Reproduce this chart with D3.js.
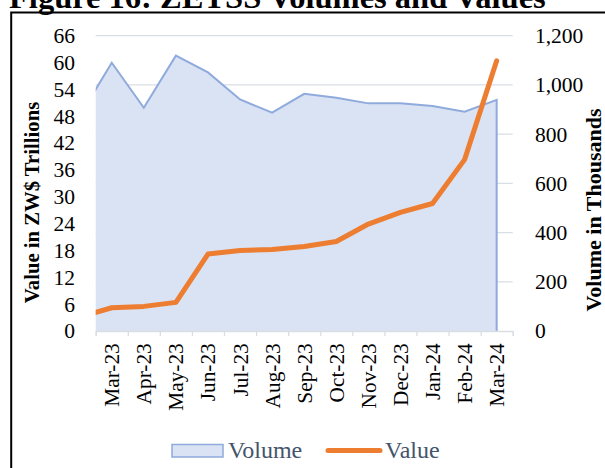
<!DOCTYPE html>
<html>
<head>
<meta charset="utf-8">
<script src="https://cdn.jsdelivr.net/npm/d3@7"></script>
<style>
  body { margin: 0; background: #fff; }
  svg { display: block; font-family: "Liberation Serif", "Times New Roman", serif; }
</style>
</head>
<body>
<script>
const width = 605;
const height = 468;

// Feb-23 sits just outside the plot, only its clipped edge shows
const months = ["Feb-23", "Mar-23", "Apr-23", "May-23", "Jun-23", "Jul-23", "Aug-23",
  "Sep-23", "Oct-23", "Nov-23", "Dec-23", "Jan-24", "Feb-24", "Mar-24"];
const volume = [874, 1090, 907, 1119, 1051, 941, 887, 964, 948, 925, 925, 914, 891, 939];
const value = [3.1, 5.2, 5.5, 6.4, 17.2, 18.0, 18.2, 18.9, 20.0, 23.9, 26.5, 28.5, 38.3, 60.4];
const valueTicks = [0, 6, 12, 18, 24, 30, 36, 42, 48, 54, 60, 66];
const volumeTicks = [0, 200, 400, 600, 800, 1000, 1200];

const plotLeft = 95.7;
const plotRight = 512.7;
const plotTop = 35.7;
const plotBottom = 331;
const areaFill = "#dae3f3";
const areaStroke = "#8faadc";
const lineColor = "#ed7d31";
const gridColor = "#d9dee6";
const legendColor = "#44546a";

const svg = d3.select("body").append("svg")
  .attr("width", width)
  .attr("height", height);

// title, cut off at the top as in the source
svg.append("text")
  .attr("x", 9)
  .attr("y", 7.5)
  .attr("font-size", 32.5)
  .attr("font-weight", "bold")
  .text("Figure 16: ZETSS Volumes and Values");

// chart frame
svg.append("rect")
  .attr("x", 11.2)
  .attr("y", 12.5)
  .attr("width", 700)
  .attr("height", 600)
  .attr("fill", "none")
  .attr("stroke", "#000")
  .attr("stroke-width", 2);

const x = d3.scaleLinear().domain([0, 13]).range([plotLeft, plotRight]);
const yVal = d3.scaleLinear().domain([0, 66]).range([plotBottom, plotTop]);
const yVol = d3.scaleLinear().domain([0, 1200]).range([plotBottom, plotTop]);
const pos = (i) => x(i - 0.5);

svg.append("clipPath")
  .attr("id", "plot-clip")
  .append("rect")
  .attr("x", plotLeft)
  .attr("y", 0)
  .attr("width", plotRight - plotLeft)
  .attr("height", height);

// gridlines on the volume ticks
svg.append("g")
  .selectAll("line")
  .data(volumeTicks.slice(1))
  .enter()
  .append("line")
  .attr("x1", plotLeft)
  .attr("x2", plotRight)
  .attr("y1", (d) => yVol(d))
  .attr("y2", (d) => yVol(d))
  .attr("stroke", gridColor)
  .attr("stroke-width", 1.3);

const plot = svg.append("g").attr("clip-path", "url(#plot-clip)");

const area = d3.area()
  .x((d, i) => pos(i))
  .y0(yVol(0))
  .y1((d) => yVol(d));

plot.append("path")
  .datum(volume)
  .attr("d", area)
  .attr("fill", areaFill);

const volLine = d3.line()
  .x((d, i) => pos(i))
  .y((d) => yVol(d));

plot.append("path")
  .datum(volume)
  .attr("d", volLine(volume) + "L" + pos(volume.length - 1) + "," + yVol(0))
  .attr("fill", "none")
  .attr("stroke", areaStroke)
  .attr("stroke-width", 2);

// x axis
const xAxis = svg.append("g")
  .attr("transform", `translate(0,${plotBottom})`)
  .call(d3.axisBottom(x).tickValues(d3.range(0, 14)).tickSize(5).tickFormat(""));
xAxis.select(".domain").attr("stroke", gridColor).attr("stroke-width", 1.3);
xAxis.selectAll(".tick line").attr("stroke", gridColor).attr("stroke-width", 1.3);

svg.append("g")
  .selectAll("text")
  .data(months.slice(1))
  .enter()
  .append("text")
  .attr("transform", (d, i) => `translate(${pos(i + 1)},343.3) rotate(-90)`)
  .attr("dy", "0.35em")
  .attr("text-anchor", "end")
  .attr("font-size", 21.3)
  .attr("fill", "#000")
  .text((d) => d);

const valLine = d3.line()
  .x((d, i) => pos(i))
  .y((d) => yVal(d));

plot.append("path")
  .datum(value)
  .attr("d", valLine)
  .attr("fill", "none")
  .attr("stroke", lineColor)
  .attr("stroke-width", 5)
  .attr("stroke-linecap", "round")
  .attr("stroke-linejoin", "round");

// left axis: value
const leftAxis = svg.append("g")
  .attr("transform", `translate(${plotLeft},0)`)
  .call(d3.axisLeft(yVal).tickValues(valueTicks).tickSize(0).tickPadding(20.7));
leftAxis.select(".domain").remove();
leftAxis.selectAll("text")
  .attr("font-family", "Liberation Serif")
  .attr("font-size", 21.5)
  .attr("fill", "#000");

// right axis: volume
const rightAxis = svg.append("g")
  .attr("transform", `translate(${plotRight},0)`)
  .call(d3.axisRight(yVol).tickValues(volumeTicks).tickSize(0).tickPadding(22.3).tickFormat(d3.format(",")));
rightAxis.select(".domain").remove();
rightAxis.selectAll("text")
  .attr("font-family", "Liberation Serif")
  .attr("font-size", 21.5)
  .attr("fill", "#000");

// axis titles
svg.append("text")
  .attr("transform", "translate(38.5,202.5) rotate(-90)")
  .attr("text-anchor", "middle")
  .attr("font-size", 20.7)
  .attr("font-weight", "bold")
  .text("Value in ZW$ Trillions");

svg.append("text")
  .attr("transform", "translate(601,210) rotate(-90)")
  .attr("text-anchor", "middle")
  .attr("font-size", 22)
  .attr("font-weight", "bold")
  .text("Volume in Thousands");

// legend
const legend = svg.append("g");
legend.append("rect")
  .attr("x", 172)
  .attr("y", 444.5)
  .attr("width", 51)
  .attr("height", 12.5)
  .attr("fill", areaFill)
  .attr("stroke", areaStroke)
  .attr("stroke-width", 1.5);
legend.append("text")
  .attr("x", 228)
  .attr("y", 458)
  .attr("font-size", 24)
  .attr("fill", legendColor)
  .text("Volume");
legend.append("line")
  .attr("x1", 328)
  .attr("x2", 380)
  .attr("y1", 450.5)
  .attr("y2", 450.5)
  .attr("stroke", lineColor)
  .attr("stroke-width", 5)
  .attr("stroke-linecap", "round");
legend.append("text")
  .attr("x", 385)
  .attr("y", 458)
  .attr("font-size", 24)
  .attr("fill", legendColor)
  .text("Value");
</script>
</body>
</html>
